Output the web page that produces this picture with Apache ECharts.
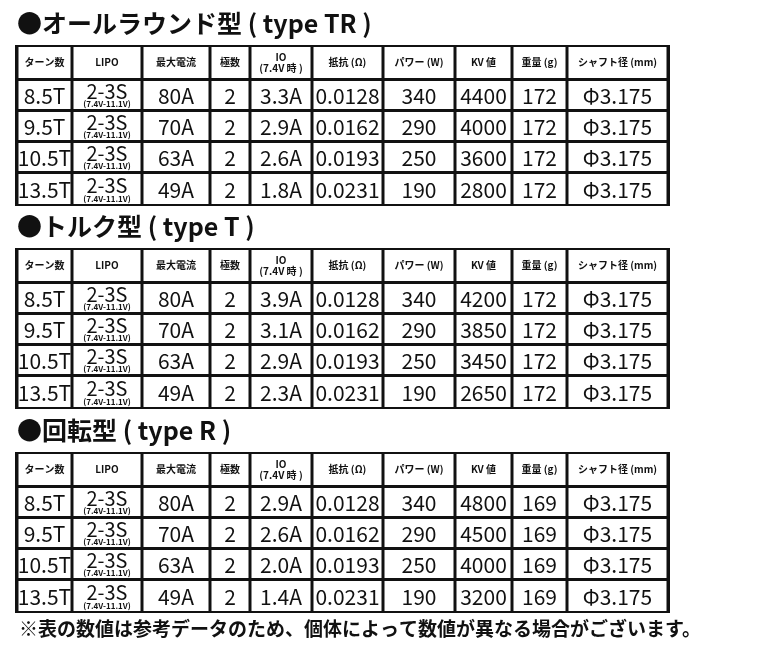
<!DOCTYPE html>
<html><head><meta charset="utf-8">
<script src="https://cdn.jsdelivr.net/npm/echarts@6/dist/echarts.min.js"></script>
<style>html,body{margin:0;padding:0;background:#fff}#c{width:770px;height:649px}</style>
</head><body><div id="c"></div>
<script>
const headers = ['ターン数','LIPO','最大電流','極数','IO\n(7.4V 時 )','抵抗 (Ω)','パワー (W)','KV 値','重量 (g)','シャフト径 (mm)'];
const titles = ['●オールラウンド型 ( type TR )','●トルク型 ( type T )','●回転型 ( type R )'];
const turns = ['8.5T','9.5T','10.5T','13.5T'];
const lipo = ['2-3S','2-3S','2-3S','2-3S'];
const maxCurrent = ['80A','70A','63A','49A'];
const poles = ['2','2','2','2'];
const resistance = ['0.0128','0.0162','0.0193','0.0231'];
const power = ['340','290','250','190'];
const shaft = ['Φ3.175','Φ3.175','Φ3.175','Φ3.175'];
const ioTR = ['3.3A','2.9A','2.6A','1.8A'];
const kvTR = ['4400','4000','3600','2800'];
const weightTR = ['172','172','172','172'];
const ioT = ['3.9A','3.1A','2.9A','2.3A'];
const kvT = ['4200','3850','3450','2650'];
const weightT = ['172','172','172','172'];
const ioR = ['2.9A','2.6A','2.0A','1.4A'];
const kvR = ['4800','4500','4000','3200'];
const weightR = ['169','169','169','169'];
const note = '※表の数値は参考データのため、個体によって数値が異なる場合がございます。';

// layout
const colEdges = [0,55,125,193,233,295,366,438,495,550,651];
const rowEdges = [0,34,65,96,127,160];
const tableTops = [45,248,452];

const tables = [[ioTR,kvTR,weightTR],[ioT,kvT,weightT],[ioR,kvR,weightR]];
function buildData(t){
  const [io,kv,w]=tables[t];
  const d=[];
  headers.forEach((h,c)=>d.push([c,0,h]));
  for(let r=0;r<4;r++){
    const vals=[turns[r],lipo[r],maxCurrent[r],poles[r],io[r],resistance[r],power[r],kv[r],w[r],shaft[r]];
    vals.forEach((v,c)=>d.push([c,r+1,v]));
  }
  return d;
}
const FF='"Noto Sans CJK JP","Noto Sans",sans-serif';
function renderItem(params, api){
  const c=api.value(0), r=api.value(1);
  const item=params.dataIndex;
  const p0=api.coord([colEdges[c],rowEdges[r]]);
  const p1=api.coord([colEdges[c+1],rowEdges[r+1]]);
  const x=p0[0]+1.5,y=p0[1]+1.5,w=p1[0]-p0[0]-3,h=p1[1]-p0[1]-3;
  const label=dataAll[params.seriesIndex][item][2];
  const children=[{type:'rect',shape:{x,y,width:w,height:h},style:{fill:'#fff'}}];
  if(r===0){
    children.push({type:'text',style:{text:label,x:x+w/2,y:y+h/2,align:'center',verticalAlign:'middle',font:'bold 10px '+FF,fill:'#111',lineHeight:11}});
  } else if(c===1){
    children.push({type:'text',style:{text:label,x:x+w/2,y:y+h/2-4,align:'center',verticalAlign:'middle',font:'20px '+FF,fill:'#111'}});
    children.push({type:'text',style:{text:'(7.4V-11.1V)',x:x+w/2,y:y+h-5,align:'center',verticalAlign:'middle',font:'bold 8px '+FF,fill:'#111'}});
  } else {
    children.push({type:'text',style:{text:label,x:x+w/2,y:y+h/2+1,align:'center',verticalAlign:'middle',font:'21px '+FF,fill:'#111'}});
  }
  return {type:'group',children};
}
const dataAll=[0,1,2].map(buildData);
const chart=echarts.init(document.getElementById('c'));
chart.setOption({
  animation:false,
  backgroundColor:'#fff',
  title:titles.map((t,i)=>({text:t,left:12,top:tableTops[i]-39,textStyle:{fontFamily:FF,fontSize:25,fontWeight:'bold',color:'#111'}}))
    .concat([{text:note,left:14,top:614,textStyle:{fontFamily:FF,fontSize:19,fontWeight:'bold',color:'#111'}}]),
  grid:tableTops.map(t=>({left:15,top:t,width:655,height:161,show:true,backgroundColor:'#111',borderWidth:0})),
  xAxis:[0,1,2].map(i=>({type:'value',gridIndex:i,min:-2,max:653,show:false})),
  yAxis:[0,1,2].map(i=>({type:'value',gridIndex:i,min:-0.5,max:160.5,inverse:true,show:false})),
  series:[0,1,2].map(i=>({type:'custom',xAxisIndex:i,yAxisIndex:i,renderItem,data:dataAll[i].map(d=>[d[0],d[1]]),clip:false}))
});
</script></body></html>
